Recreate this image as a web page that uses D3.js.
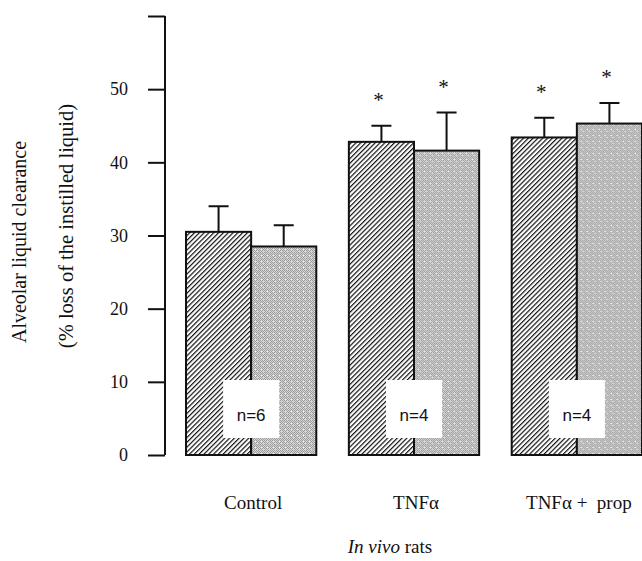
<!DOCTYPE html>
<html>
<head>
<meta charset="utf-8">
<script src="https://cdn.jsdelivr.net/npm/d3@7/dist/d3.min.js"></script>
<style>
  html, body { margin: 0; padding: 0; background: #fff; }
  svg { display: block; }
  .serif { font-family: "Liberation Serif", "Times New Roman", serif; fill: #111; }
  .sans { font-family: "Liberation Sans", Arial, sans-serif; fill: #111; }
</style>
</head>
<body>
<script>
// ---- data ----
const categories = ["Control", "TNFα", "TNFα +  prop"];
const seriesNames = ["hatched", "stippled"];
const meanHatched = [30.5, 42.8, 43.4];
const meanStippled = [28.5, 41.6, 45.3];
const errHatched = [3.5, 2.2, 2.7];
const errStippled = [2.9, 5.2, 2.8];
const sigHatched = [false, true, true];
const sigStippled = [false, true, true];
const nLabels = ["n=6", "n=4", "n=4"];
const yTickValues = [0, 10, 20, 30, 40, 50, 60];
const yTickLabels = ["0", "10", "20", "30", "40", "50", ""];
const yLabel1 = "Alveolar liquid clearance";
const yLabel2 = "(% loss of the instilled liquid)";

const W = 642, H = 561;
const svg = d3.select("body").append("svg").attr("width", W).attr("height", H);

const defs = svg.append("defs");
// hatch pattern
const hatch = defs.append("pattern")
  .attr("id", "hatch").attr("patternUnits", "userSpaceOnUse")
  .attr("width", 3.4).attr("height", 3.4)
  .attr("patternTransform", "rotate(45)");
hatch.append("rect").attr("width", 3.4).attr("height", 3.4).attr("fill", "#fff");
hatch.append("line").attr("x1", 0).attr("y1", 0).attr("x2", 0).attr("y2", 3.4)
  .attr("stroke", "#111").attr("stroke-width", 2.4);
// stipple pattern
const stip = defs.append("pattern")
  .attr("id", "stipple").attr("patternUnits", "userSpaceOnUse")
  .attr("width", 6).attr("height", 6);
stip.append("rect").attr("width", 6).attr("height", 6).attr("fill", "#d6d6d6");
const dots = [[0,0],[2,0],[4,0],[1,1],[3,1],[5,1],[0,2],[2,2],[4,2],[1,3],[5,3],[0,4],[2,4],[4,4],[1,5],[3,5]];
stip.selectAll("rect.d").data(dots).enter().append("rect").attr("class", "d")
  .attr("x", d => d[0]).attr("y", d => d[1]).attr("width", 1).attr("height", 1)
  .attr("fill", "#9c9c9c");
stip.append("rect").attr("x", 3).attr("y", 3).attr("width", 1).attr("height", 1).attr("fill", "#f0f0f0");

// ---- scales ----
const y = d3.scaleLinear().domain([0, 60]).range([455, 16]);
const x0 = d3.scaleBand().domain(categories).range([186, 642]).paddingInner(0.2).paddingOuter(0);
const x1 = d3.scaleBand().domain(seriesNames).range([0, x0.bandwidth()]).padding(0);

// ---- axis ----
const axisX = 165;
const yAxis = d3.axisLeft(y).tickValues(yTickValues)
  .tickFormat((d, i) => yTickLabels[i]).tickSize(17).tickPadding(20);
const gy = svg.append("g").attr("transform", `translate(${axisX},0)`).call(yAxis);
gy.select(".domain").attr("d", `M0,${y(60)}V${y(0)}`).attr("stroke", "#111").attr("stroke-width", 2);
gy.selectAll(".tick line").attr("stroke", "#111").attr("stroke-width", 2);
gy.selectAll(".tick text").attr("class", "serif").style("font-size", "18px").attr("fill", "#111");

// ---- bars ----
const rows = categories.map((c, i) => ({
  cat: c,
  vals: [
    { s: seriesNames[0], v: meanHatched[i], e: errHatched[i], sig: sigHatched[i] },
    { s: seriesNames[1], v: meanStippled[i], e: errStippled[i], sig: sigStippled[i] }
  ],
  n: nLabels[i]
}));

const groups = svg.selectAll("g.grp").data(rows).enter().append("g")
  .attr("class", "grp").attr("transform", d => `translate(${x0(d.cat)},0)`);

// error bars
groups.selectAll("path.err").data(d => d.vals).enter().append("path")
  .attr("class", "err")
  .attr("d", d => {
    const cx = x1(d.s) + x1.bandwidth() / 2;
    const top = y(d.v + d.e);
    return `M${cx},${y(d.v)}V${top}M${cx - 10},${top}H${cx + 10}`;
  })
  .attr("stroke", "#111").attr("stroke-width", 2).attr("fill", "none");

groups.selectAll("rect.bar").data(d => d.vals).enter().append("rect")
  .attr("class", "bar")
  .attr("x", d => x1(d.s))
  .attr("y", d => y(d.v))
  .attr("width", x1.bandwidth())
  .attr("height", d => y(0) - y(d.v))
  .attr("fill", (d, i) => i === 0 ? "url(#hatch)" : "url(#stipple)")
  .attr("stroke", "#111").attr("stroke-width", 2);

// stars
groups.selectAll("text.star").data(d => d.vals.filter(v => v.sig)).enter().append("text")
  .attr("class", "serif")
  .attr("x", d => x1(d.s) + x1.bandwidth() / 2 - 3)
  .attr("y", d => y(d.v + d.e) - 19)
  .attr("text-anchor", "middle")
  .style("font-size", "21px")
  .text("*");

// n boxes (centred on the boundary between the two bars)
groups.append("rect")
  .attr("x", x1.bandwidth() - 28)
  .attr("y", y(0) - 75)
  .attr("width", 56).attr("height", 58)
  .attr("fill", "#fff");
groups.append("text")
  .attr("class", "sans")
  .attr("x", x1.bandwidth())
  .attr("y", y(0) - 34)
  .attr("text-anchor", "middle")
  .style("font-size", "17px")
  .text(d => d.n);

// category labels
groups.append("text")
  .attr("class", "serif")
  .attr("x", x0.bandwidth() / 2 + 2)
  .attr("y", 509)
  .attr("text-anchor", "middle")
  .style("font-size", "19px")
  .style("white-space", "pre")
  .attr("xml:space", "preserve")
  .text(d => d.cat);

// x title
const xt = svg.append("text").attr("class", "serif")
  .attr("x", 390).attr("y", 553).attr("text-anchor", "middle")
  .style("font-size", "19px");
xt.append("tspan").style("font-style", "italic").text("In vivo");
xt.append("tspan").text(" rats");

// y titles
svg.append("text").attr("class", "serif")
  .attr("transform", "translate(26,242) rotate(-90)")
  .attr("text-anchor", "middle").style("font-size", "20px")
  .text(yLabel1);
svg.append("text").attr("class", "serif")
  .attr("transform", "translate(73,226) rotate(-90)")
  .attr("text-anchor", "middle").style("font-size", "20.5px")
  .text(yLabel2);
</script>
</body>
</html>
